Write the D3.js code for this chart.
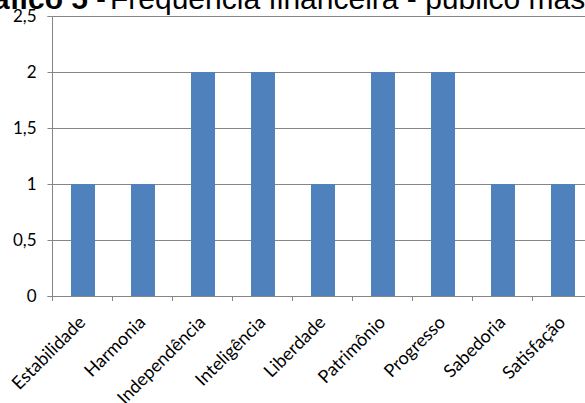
<!DOCTYPE html>
<html>
<head>
<meta charset="utf-8">
<script src="https://cdn.jsdelivr.net/npm/d3@7"></script>
<style>
  html, body { margin: 0; padding: 0; background: #fff; }
  svg { display: block; }
</style>
</head>
<body>
<svg id="chart" width="585" height="403"></svg>
<script>
// Values per category
const categories = ["Estabilidade", "Harmonia", "Independência", "Inteligência", "Liberdade", "Patrimônio", "Progresso", "Sabedoria", "Satisfação"];
const values = [1, 1, 2, 2, 1, 2, 2, 1, 1];
const yTicks = [0, 0.5, 1, 1.5, 2, 2.5];
const titleBold = "Gráfico 5";
const titleDash = "-";
const titleRest = "Frequência financeira - público masculino";

const svg = d3.select("#chart");
const W = 585, H = 403;

const x = d3.scaleBand()
  .domain(categories)
  .range([53, 593])
  .paddingInner(0.6)
  .paddingOuter(0.3);

const y = d3.scaleLinear()
  .domain([0, 2.5])
  .range([296, 16]);

const gridColor = "#868686";
const labelFont = "Lato, 'Open Sans', sans-serif";
const titleFont = "'Liberation Sans', Arimo, Arial, sans-serif";

// Horizontal gridlines
svg.append("g")
  .selectAll("line")
  .data(yTicks.filter(d => d > 0))
  .join("line")
  .attr("x1", 53).attr("x2", W)
  .attr("y1", d => Math.round(y(d)) + 0.5)
  .attr("y2", d => Math.round(y(d)) + 0.5)
  .attr("stroke", gridColor)
  .attr("stroke-width", 1);

// Bars
svg.append("g")
  .selectAll("rect")
  .data(categories.map((c, i) => ({ c, v: values[i] })))
  .join("rect")
  .attr("x", d => x(d.c))
  .attr("width", x.bandwidth())
  .attr("y", d => y(d.v))
  .attr("height", d => y(0) - y(d.v))
  .attr("fill", "#4F81BD");

// Y axis
const yAxis = d3.axisLeft(y)
  .tickValues(yTicks)
  .tickSize(5)
  .tickPadding(11)
  .tickFormat(d => d3.format("")(d).replace(".", ","));

const gy = svg.append("g")
  .attr("transform", "translate(52.5,0)")
  .call(yAxis);
gy.select(".domain").attr("stroke", gridColor).attr("d", "M-5,16.5H0V296.5H-5");
gy.selectAll(".tick line").attr("stroke", gridColor);
gy.selectAll(".tick text")
  .attr("fill", "#000")
  .style("font-family", labelFont)
  .style("font-size", "17px");
gy.selectAll(".tick").attr("transform", d => `translate(0,${Math.round(y(d)) + 0.5})`);

// X axis baseline and ticks at category boundaries
const bounds = d3.range(categories.length + 1).map(i => x.range()[0] + i * x.step());
const gx = svg.append("g");
gx.append("line")
  .attr("x1", 52.5).attr("x2", W)
  .attr("y1", 296.5).attr("y2", 296.5)
  .attr("stroke", gridColor);
gx.selectAll("line.tk")
  .data(bounds)
  .join("line")
  .attr("class", "tk")
  .attr("x1", d => Math.round(d) - 0.5).attr("x2", d => Math.round(d) - 0.5)
  .attr("y1", 296).attr("y2", 301)
  .attr("stroke", gridColor);

// Rotated category labels
gx.selectAll("text")
  .data(categories)
  .join("text")
  .attr("transform", d => `translate(${x(d) + x.bandwidth() / 2 - 1},${319}) rotate(-45)`)
  .attr("text-anchor", "end")
  .attr("dy", "0.35em")
  .attr("fill", "#000")
  .style("font-family", labelFont)
  .style("font-size", "18px")
  .text(d => d);

// Title (runs past the top edge)
const title = svg.append("g")
  .style("font-family", titleFont)
  .style("font-size", "30px")
  .attr("fill", "#000");
title.append("text")
  .attr("x", 88).attr("y", 9)
  .attr("text-anchor", "end")
  .style("font-weight", "bold")
  .text(titleBold);
title.append("text")
  .attr("x", 96).attr("y", 9)
  .text(titleDash);
title.append("text")
  .attr("x", 110).attr("y", 9)
  .text(titleRest);
</script>
</body>
</html>
